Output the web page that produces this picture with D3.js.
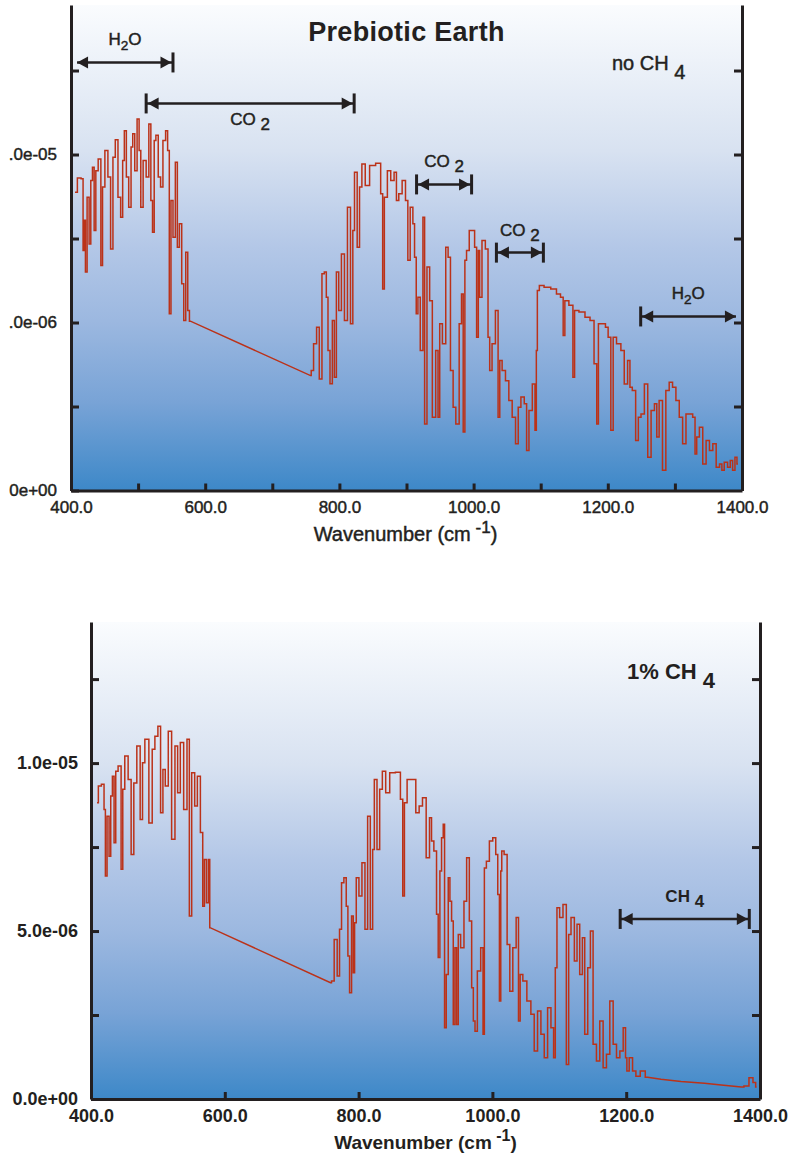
<!DOCTYPE html>
<html>
<head>
<meta charset="utf-8">
<script src="https://cdn.jsdelivr.net/npm/d3@7"></script>
<style>
  body { margin: 0; background: #fff; }
  svg { display: block; font-family: "Liberation Sans", Arial, sans-serif; }
</style>
</head>
<body>
<script>
// Spectra: [wavenumber (cm-1), radiance in units of 1e-6]
const noCh4Spectrum = [
  [406,8.88],[413,9.30],[417,9.28],[419,7.14],[421,8.04],[422,6.50],[426,8.73],[428,7.34],[431,9.23],[433,9.62],
  [436,7.74],[438,9.52],[443,9.87],[446,6.70],[448,9.03],[453,10.12],[457,9.33],[461,7.19],[464,9.92],[468,10.44],
  [472,8.73],[476,8.13],[478,9.82],[481,10.71],[484,9.33],[488,8.43],[491,10.22],[493,10.62],[497,9.52],[500,11.06],
  [503,10.12],[505,8.43],[510,9.82],[514,9.33],[518,10.91],[520,8.63],[523,7.69],[525,10.42],[528,10.57],[532,9.33],
  [535,9.03],[539,10.42],[543,10.71],[545,10.12],[548,5.26],[550,8.63],[554,7.54],[557,9.77],[560,7.24],[563,7.94],
  [567,6.15],[569,5.06],[573,7.09],[575,5.36],[578,5.04],[757,3.42],[759,3.57],[764,4.37],[768,4.86],[772,3.32],
  [776,6.45],[779,6.50],[782,5.75],[784,4.17],[788,3.18],[791,5.06],[794,3.37],[797,6.50],[801,5.36],[805,7.04],
  [810,5.06],[814,8.43],[819,4.96],[821,7.74],[824,9.47],[829,7.24],[831,9.03],[836,9.72],[841,9.08],[849,9.67],
  [859,9.74],[864,8.83],[865,6.00],[869,8.73],[874,9.52],[879,9.23],[884,9.47],[886,8.63],[891,8.83],[896,9.23],
  [901,8.63],[903,6.85],[908,8.43],[911,7.94],[913,6.94],[916,5.26],[918,5.75],[923,4.17],[926,8.13],[928,1.98],
  [933,6.65],[936,5.65],[941,2.18],[946,4.17],[948,2.18],[951,4.96],[956,4.37],[961,7.24],[963,6.94],[968,3.57],
  [971,2.48],[976,1.98],[981,4.96],[983,5.85],[986,1.74],[988,6.85],[991,7.14],[996,7.74],[1000,7.74],[1003,7.24],
  [1006,4.56],[1008,7.14],[1010,5.75],[1015,7.44],[1020,7.19],[1023,4.56],[1025,3.57],[1030,4.37],[1035,5.36],[1038,2.18],
  [1040,3.87],[1045,3.57],[1050,3.27],[1055,2.68],[1060,2.18],[1065,1.39],[1068,2.48],[1073,2.78],[1078,2.58],[1080,1.19],
  [1085,2.38],[1090,3.17],[1093,1.79],[1094,4.17],[1096,5.95],[1100,6.10],[1110,6.05],[1120,6.00],[1127,5.85],[1132,5.75],
  [1135,4.61],[1137,5.65],[1147,5.51],[1149,3.37],[1152,5.36],[1162,5.31],[1170,5.16],[1177,5.06],[1182,3.77],[1185,1.98],
  [1187,4.96],[1194,4.96],[1199,4.86],[1202,4.56],[1207,1.79],[1209,4.56],[1217,4.37],[1222,4.17],[1227,3.17],[1232,3.87],
  [1234,3.07],[1239,2.98],[1244,1.49],[1247,2.18],[1252,2.28],[1257,3.17],[1262,0.99],[1267,2.38],[1272,2.58],[1274,1.59],
  [1279,2.68],[1284,0.60],[1289,2.98],[1294,3.22],[1299,3.07],[1304,2.68],[1309,2.18],[1314,1.39],[1319,2.28],[1324,2.28],
  [1329,2.18],[1331,1.09],[1334,1.59],[1339,1.88],[1344,0.79],[1349,1.49],[1354,1.19],[1359,1.39],[1364,0.69],[1369,0.79],
  [1371,0.60],[1376,0.84],[1381,0.69],[1384,0.89],[1388,0.60],[1391,0.99],[1394,0.79]
];

const ch4Spectrum = [
  [409,8.82],[413,9.32],[418,9.37],[421,8.62],[422,6.64],[426,8.42],[428,7.23],[431,9.02],[433,9.61],[436,7.63],
  [438,9.76],[443,9.91],[447,6.84],[448,9.22],[453,10.21],[458,9.51],[462,7.28],[466,9.41],[471,10.51],[476,8.32],
  [478,10.01],[483,10.71],[490,8.22],[493,10.41],[498,10.80],[502,11.10],[506,8.52],[509,9.81],[513,9.32],[518,10.95],
  [523,7.73],[528,10.51],[531,9.12],[536,10.61],[541,8.62],[546,10.71],[548,5.45],[553,9.71],[557,8.72],[561,9.61],
  [566,7.93],[568,5.74],[571,7.13],[574,5.84],[577,7.13],[578,5.10],[758,3.46],[761,3.51],[766,4.75],[770,3.66],
  [773,5.05],[776,6.44],[780,6.59],[783,5.74],[785,4.26],[788,3.16],[791,5.45],[793,3.76],[795,5.25],[798,6.59],
  [803,6.04],[807,7.03],[812,5.05],[815,8.42],[820,5.05],[822,7.43],[825,9.51],[830,7.43],[833,9.22],[838,9.76],
  [843,9.12],[850,9.71],[860,9.73],[865,8.92],[867,6.04],[870,8.82],[875,9.51],[883,9.51],[888,8.52],[893,8.72],
  [898,8.97],[904,7.18],[908,8.37],[910,7.68],[915,7.38],[918,5.50],[920,4.21],[923,6.79],[925,7.78],[928,8.18],
  [929,2.12],[933,3.71],[935,6.59],[938,5.89],[940,5.30],[943,2.22],[945,4.50],[948,2.22],[950,4.90],[955,4.50],
  [960,5.89],[963,7.18],[968,5.30],[970,3.31],[973,2.32],[975,2.02],[980,3.81],[985,4.50],[987,1.93],[989,6.88],
  [993,7.08],[998,7.68],[1003,7.78],[1007,7.28],[1009,6.09],[1012,2.92],[1013,6.79],[1015,7.38],[1020,7.28],[1024,4.60],
  [1028,3.21],[1033,4.50],[1038,5.40],[1040,2.32],[1043,3.71],[1048,3.51],[1055,2.92],[1060,2.52],[1065,1.43],[1070,2.62],
  [1075,1.93],[1080,1.23],[1085,2.72],[1090,2.12],[1093,1.23],[1095,3.91],[1098,5.69],[1103,5.40],[1108,5.79],[1113,1.03],
  [1115,4.90],[1120,5.40],[1125,4.11],[1128,5.20],[1133,3.71],[1136,4.80],[1140,1.93],[1145,3.91],[1148,5.00],[1153,1.63],
  [1158,1.13],[1163,2.32],[1168,0.93],[1173,1.33],[1178,2.92],[1183,1.63],[1188,1.23],[1193,1.43],[1198,2.12],[1200,1.23],
  [1202,0.83],[1207,1.23],[1212,0.83],[1217,0.68],[1225,0.83],[1232,0.65],[1252,0.59],[1282,0.52],[1317,0.47],[1342,0.42],
  [1372,0.36],[1380,0.39],[1387,0.63],[1392,0.49],[1395,0.36]
];

const xTicksTop = [400, 500, 600, 700, 800, 900, 1000, 1100, 1200, 1300, 1400];
const xTicksBottom = [400, 600, 800, 1000, 1200, 1400];
const xLabels = [400, 600, 800, 1000, 1200, 1400];
const yTicks = [0, 2.5, 5, 7.5, 10, 12.5];
const yLabels = [0, 5, 10];

// absorption bands: wavenumber range and the radiance level the arrow sits at
const noCh4Bands = [
  {label: "H_2O", from: 409, to: 552, level: 12.74, bars: "right", side: "above"},
  {label: "CO _2", from: 512, to: 822, level: 11.52, bars: "both", side: "below"},
  {label: "CO _2", from: 915, to: 997, level: 9.11, bars: "both", side: "above"},
  {label: "CO _2", from: 1034, to: 1104, level: 7.08, bars: "both", side: "above"},
  {label: "H_2O", from: 1249, to: 1391, level: 5.18, bars: "left", side: "above"}
];
const ch4Bands = [
  {label: "CH _4", from: 1191, to: 1384, level: 5.36, bars: "both", side: "above"}
];

const ink = "#231f20";
const lineColor = "#bb3219";

const svg = d3.select("body").append("svg")
  .attr("width", 790)
  .attr("height", 1153);

const defs = svg.append("defs");
const grad = defs.append("linearGradient")
  .attr("id", "bg")
  .attr("x1", 0).attr("y1", 0).attr("x2", 0).attr("y2", 1);
[[0, "#fafcfe"], [0.3, "#d8e2f1"], [0.5, "#b3c7e7"], [0.65, "#9cb8e0"], [0.82, "#78a3d6"], [1, "#3d88c8"]]
  .forEach(s => grad.append("stop").attr("offset", s[0]).attr("stop-color", s[1]));

function sciFormat(v) {
  return d3.format(".1e")(v * 1e-6).replace(/e([+-])(\d)$/, "e$10$2");
}

// "H_2O" -> H, subscript 2, O ; "CO _2" keeps the subscript full size
function chemText(sel, str, subDy) {
  const parts = str.split(/_(\d)/);
  const small = str.indexOf(" _") < 0;
  let shift = 0;
  parts.forEach((p, i) => {
    if (p === "") return;
    const isSub = i % 2 === 1;
    const target = isSub ? subDy : 0;
    sel.append("tspan")
      .attr("dy", target - shift)
      .attr("font-size", isSub && small ? "0.8em" : null)
      .text(p);
    shift = target;
  });
}

// the spectrum is a stepped trace; long gaps (the 580-760 window) are straight lines
function stepped(points) {
  const out = [points[0]];
  for (let i = 1; i < points.length; i++) {
    const a = points[i - 1], b = points[i];
    if (b[0] - a[0] < 20) {
      const mid = (a[0] + b[0]) / 2;
      out.push([mid, a[1]], [mid, b[1]]);
    }
    out.push(b);
  }
  return out;
}

function drawPanel(cfg) {
  const x = d3.scaleLinear().domain([400, 1400]).range([cfg.left, cfg.right]);
  const y = d3.scaleLinear().domain([0, cfg.yMax]).range([cfg.bottom, cfg.top]);
  const weight = cfg.bold ? "bold" : "normal";
  const thicken = el => { if (!cfg.bold) el.attr("stroke", ink).attr("stroke-width", 0.45); };

  const g = svg.append("g");

  g.append("rect")
    .attr("x", cfg.left).attr("y", cfg.top)
    .attr("width", cfg.right - cfg.left).attr("height", cfg.bottom - cfg.top)
    .attr("fill", "url(#bg)");

  const clipId = "plot" + cfg.id;
  defs.append("clipPath").attr("id", clipId)
    .append("rect")
    .attr("x", cfg.left).attr("y", cfg.top)
    .attr("width", cfg.right - cfg.left).attr("height", cfg.bottom - cfg.top);

  const line = d3.line().x(d => x(d[0])).y(d => y(d[1]));
  g.append("path")
    .datum(stepped(cfg.data))
    .attr("clip-path", `url(#${clipId})`)
    .attr("fill", "none")
    .attr("stroke", lineColor)
    .attr("stroke-width", 1.5)
    .attr("d", line);

  // axes
  const xAxis = d3.axisBottom(x)
    .tickValues(cfg.xTicks)
    .tickSizeInner(-7).tickSizeOuter(0).tickPadding(10)
    .tickFormat(d => xLabels.includes(d) ? d3.format(".1f")(d) : "");
  const gx = g.append("g")
    .attr("transform", `translate(0,${cfg.bottom})`)
    .call(xAxis);

  const yAxis = d3.axisLeft(y)
    .tickValues(yTicks)
    .tickSizeInner(-8).tickSizeOuter(0).tickPadding(cfg.yPad)
    .tickFormat(d => yLabels.includes(d) ? sciFormat(d) : "");
  const gy = g.append("g")
    .attr("transform", `translate(${cfg.left},0)`)
    .call(yAxis);
  if (cfg.cropLeft != null) {
    // the left edge of the original figure is cropped through these labels
    const cid = "crop" + cfg.id;
    defs.append("clipPath").attr("id", cid)
      .append("rect")
      .attr("x", cfg.cropLeft - cfg.left).attr("y", -10)
      .attr("width", 200).attr("height", 1200);
    gy.attr("clip-path", `url(#${cid})`);
  }

  const gr = g.append("g")
    .attr("transform", `translate(${cfg.right},0)`)
    .call(d3.axisRight(y).tickValues(yTicks.filter(d => d > 0)).tickSizeInner(-8).tickSizeOuter(0).tickFormat(""));

  [gx, gy, gr].forEach(a => {
    a.select(".domain").attr("stroke", ink).attr("stroke-width", 3);
    a.selectAll(".tick line").attr("stroke", ink).attr("stroke-width", 3);
    const txt = a.selectAll(".tick text")
      .attr("fill", ink)
      .attr("font-size", cfg.tickSize)
      .attr("font-weight", weight)
      .attr("font-family", "'Liberation Sans', Arial, sans-serif");
    thicken(txt);
  });

  // x axis title
  const title = g.append("text")
    .attr("x", (cfg.left + cfg.right) / 2 + cfg.titleShift)
    .attr("y", cfg.bottom + 50)
    .attr("text-anchor", "middle")
    .attr("fill", ink)
    .attr("font-size", cfg.titleSize)
    .attr("font-weight", weight);
  title.append("tspan").text("Wavenumber (cm");
  title.append("tspan").attr("dy", -8).attr("font-size", cfg.titleSize - 3).text(" -1");
  title.append("tspan").attr("dy", 8).text(")");
  thicken(title);

  // band arrows
  cfg.bands.forEach(b => {
    const x1 = x(b.from), x2 = x(b.to), yy = y(b.level);
    const bg = g.append("g");
    bg.append("line")
      .attr("x1", x1).attr("x2", x2).attr("y1", yy).attr("y2", yy)
      .attr("stroke", ink).attr("stroke-width", 2.5);
    [{px: x1, dir: -1, bar: b.bars !== "right"}, {px: x2, dir: 1, bar: b.bars !== "left"}]
      .forEach(e => {
        const tip = e.bar ? e.px - e.dir * 1.5 : e.px;
        bg.append("path")
          .attr("d", `M${tip},${yy}L${tip - e.dir * 11},${yy - 6}L${tip - e.dir * 11},${yy + 6}Z`)
          .attr("fill", ink);
        if (e.bar) {
          bg.append("line")
            .attr("x1", e.px).attr("x2", e.px)
            .attr("y1", yy - 10).attr("y2", yy + 10)
            .attr("stroke", ink).attr("stroke-width", 3);
        }
      });
    const t = bg.append("text")
      .attr("x", (x1 + x2) / 2)
      .attr("y", b.side === "above" ? yy - 17 : yy + 22)
      .attr("text-anchor", "middle")
      .attr("fill", ink)
      .attr("font-size", 17)
      .attr("font-weight", weight);
    chemText(t, b.label, 5);
    thicken(t);
  });

  // case label
  const lab = g.append("text")
    .attr("x", cfg.right - cfg.caseOffset)
    .attr("y", cfg.top + cfg.caseDrop)
    .attr("fill", ink)
    .attr("font-size", cfg.caseSize)
    .attr("font-weight", weight);
  chemText(lab, cfg.caseLabel, 9);
  thicken(lab);

  return {x, y, g};
}

const topPanel = drawPanel({
  id: "A", left: 71, right: 742, top: 5, bottom: 490.5, yMax: 14.45,
  data: noCh4Spectrum, bands: noCh4Bands, xTicks: xTicksTop,
  bold: false, yPad: 14, cropLeft: 9, titleShift: -1, titleSize: 20, tickSize: 17,
  caseLabel: "no CH _4", caseOffset: 130, caseDrop: 65, caseSize: 20
});

topPanel.g.append("text")
  .attr("x", (71 + 742) / 2)
  .attr("y", 41)
  .attr("text-anchor", "middle")
  .attr("fill", ink)
  .attr("font-size", 27)
  .attr("font-weight", "bold")
  .attr("letter-spacing", 0.3)
  .text("Prebiotic Earth");

drawPanel({
  id: "B", left: 91, right: 760, top: 622, bottom: 1099, yMax: 14.2,
  data: ch4Spectrum, bands: ch4Bands, xTicks: xTicksBottom,
  bold: true, yPad: 13, cropLeft: null, titleShift: 0, titleSize: 19, tickSize: 18,
  caseLabel: "1% CH _4", caseOffset: 133, caseDrop: 57, caseSize: 22
});
</script>
</body>
</html>
